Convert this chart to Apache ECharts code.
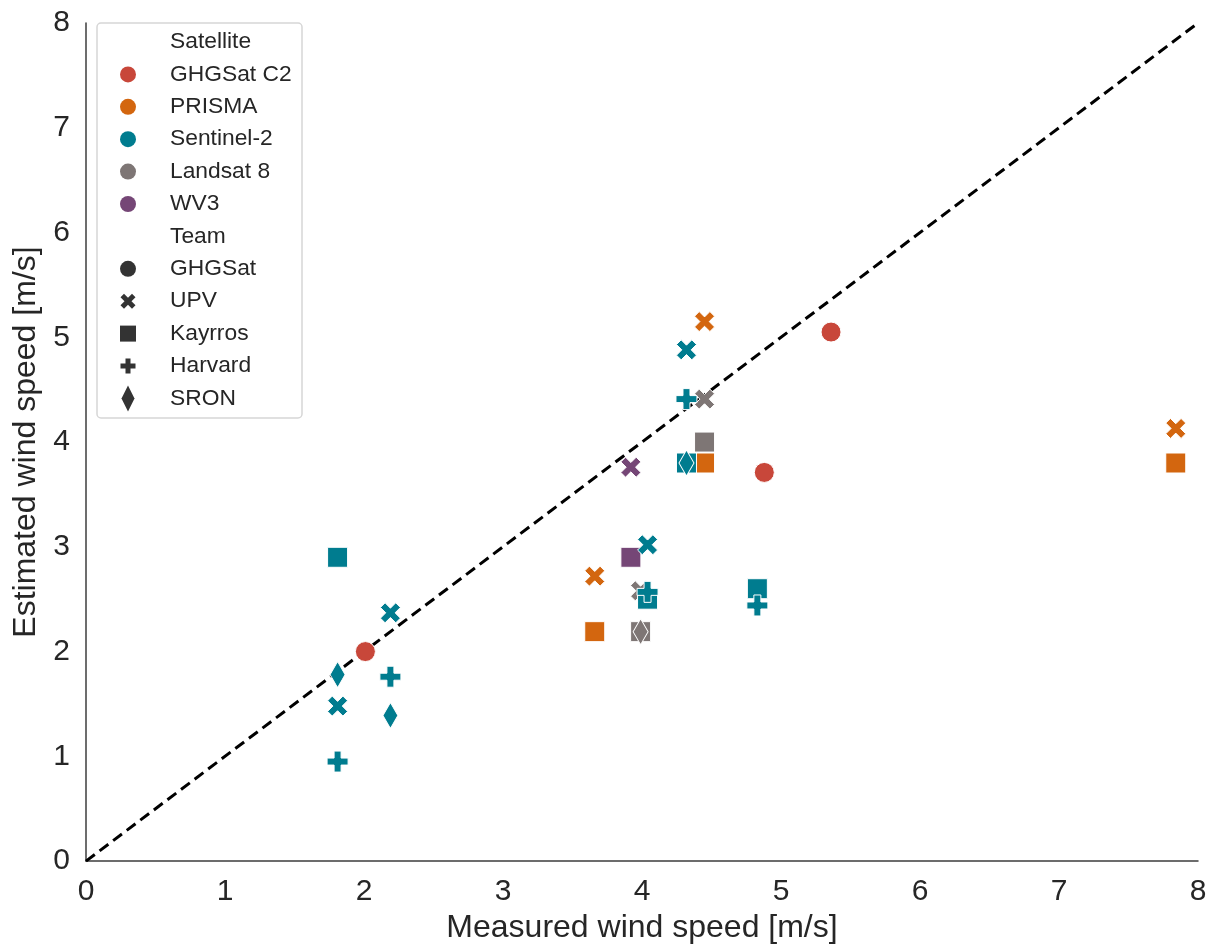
<!DOCTYPE html>
<html>
<head>
<meta charset="utf-8">
<script src="https://cdn.jsdelivr.net/npm/echarts@6/dist/echarts.min.js"></script>
<style>html,body{margin:0;padding:0;background:#fff}#c{width:1211px;height:949px}</style>
</head>
<body>
<div id="c"></div>
<script>
// ---- data ----
const satellites = ['GHGSat C2', 'PRISMA', 'Sentinel-2', 'Landsat 8', 'WV3'];
const teams = ['GHGSat', 'UPV', 'Kayrros', 'Harvard', 'SRON'];
const axisTicks = [0, 1, 2, 3, 4, 5, 6, 7, 8];

const ghgsatC2_GHGSat = [[2.01, 2.00], [5.36, 5.05], [4.88, 3.71]];
const prisma_UPV = [[4.45, 5.15], [7.84, 4.13], [3.66, 2.72]];
const prisma_Kayrros = [[7.84, 3.80], [4.45, 3.80], [3.66, 2.19]];
const sentinel2_UPV = [[4.32, 4.88], [4.04, 3.02], [2.19, 2.37], [1.81, 1.48]];
const sentinel2_Kayrros = [[4.32, 3.80], [4.04, 2.50], [4.83, 2.60], [1.81, 2.90]];
const sentinel2_Harvard = [[4.32, 4.41], [4.04, 2.57], [4.83, 2.44], [2.19, 1.76], [1.81, 0.95]];
const sentinel2_SRON = [[4.32, 3.80], [2.19, 1.39], [1.81, 1.78]];
const landsat8_UPV = [[4.45, 4.41], [3.99, 2.58]];
const landsat8_Kayrros = [[4.45, 4.00], [3.99, 2.19]];
const landsat8_SRON = [[3.99, 2.19]];
const wv3_UPV = [[3.92, 3.76]];
const wv3_Kayrros = [[3.92, 2.90]];
const identityLine = [[0, 0], [8, 8]];

// ---- styles ----
const satColors = {
  'GHGSat C2': '#c8473a',
  'PRISMA': '#d3660f',
  'Sentinel-2': '#007c8f',
  'Landsat 8': '#7e7675',
  'WV3': '#754676'
};
const X_PATH = 'path://M-3,-1.6L-1.6,-3L0,-1.4L1.6,-3L3,-1.6L1.4,0L3,1.6L1.6,3L0,1.4L-1.6,3L-3,1.6L-1.4,0Z';
const P_PATH = 'path://M-1,-3H1V-1H3V1H1V3H-1V1H-3V-1H-1Z';
const teamSymbols = {
  'GHGSat': { symbol: 'circle', size: 20 },
  'UPV': { symbol: X_PATH, size: 20 },
  'Kayrros': { symbol: 'rect', size: 20 },
  'Harvard': { symbol: P_PATH, size: 21 },
  'SRON': { symbol: 'diamond', size: [15, 26] }
};

// draw order
const groups = [
  ['Landsat 8', 'Kayrros', landsat8_Kayrros],
  ['PRISMA', 'Kayrros', prisma_Kayrros],
  ['WV3', 'Kayrros', wv3_Kayrros],
  ['Landsat 8', 'UPV', landsat8_UPV],
  ['Sentinel-2', 'Kayrros', sentinel2_Kayrros],
  ['PRISMA', 'UPV', prisma_UPV],
  ['Sentinel-2', 'UPV', sentinel2_UPV],
  ['WV3', 'UPV', wv3_UPV],
  ['Sentinel-2', 'Harvard', sentinel2_Harvard],
  ['Sentinel-2', 'SRON', sentinel2_SRON],
  ['Landsat 8', 'SRON', landsat8_SRON],
  ['GHGSat C2', 'GHGSat', ghgsatC2_GHGSat]
];

const series = [{
  type: 'line',
  data: identityLine,
  showSymbol: false,
  silent: true,
  z: 1,
  lineStyle: { color: '#000', width: 3, type: [11, 6] },
  animation: false
}];
groups.forEach(([sat, team, data], i) => {
  series.push({
    type: 'scatter',
    name: sat + ' / ' + team,
    data: data,
    symbol: teamSymbols[team].symbol,
    symbolSize: teamSymbols[team].size,
    itemStyle: { color: satColors[sat], borderColor: '#ffffff', borderWidth: 1, opacity: 1 },
    z: 2 + i,
    animation: false
  });
});

// ---- legend (graphic) ----
const LG = { left: 97, top: 23, width: 205, height: 395, rowTop: 42, rowStep: 32.4, markerX: 128, textX: 170 };
const legendRows = [{ header: 'Satellite' }]
  .concat(satellites.map(s => ({ label: s, color: satColors[s], shape: 'circle' })))
  .concat([{ header: 'Team' }])
  .concat(teams.map(t => ({ label: t, color: '#333333', shape: t })));

function shapeEl(shape, cx, cy, color) {
  const st = { fill: color };
  if (shape === 'circle' || shape === 'GHGSat') return { type: 'circle', shape: { cx, cy, r: 8 }, style: st };
  if (shape === 'Kayrros') return { type: 'rect', shape: { x: cx - 8, y: cy - 8, width: 16, height: 16 }, style: st };
  if (shape === 'SRON') return { type: 'polygon', shape: { points: [[cx, cy - 13], [cx + 6.5, cy], [cx, cy + 13], [cx - 6.5, cy]] }, style: st };
  const s = 15 / 6;
  let pts;
  if (shape === 'UPV') pts = [[-3,-1.6],[-1.6,-3],[0,-1.4],[1.6,-3],[3,-1.6],[1.4,0],[3,1.6],[1.6,3],[0,1.4],[-1.6,3],[-3,1.6],[-1.4,0]];
  else pts = [[-1,-3],[1,-3],[1,-1],[3,-1],[3,1],[1,1],[1,3],[-1,3],[-1,1],[-3,1],[-3,-1],[-1,-1]];
  return { type: 'polygon', shape: { points: pts.map(p => [cx + p[0] * s, cy + p[1] * s]) }, style: st };
}

const graphic = [{
  type: 'rect',
  shape: { x: LG.left, y: LG.top, width: LG.width, height: LG.height, r: 4 },
  style: { fill: '#ffffff', stroke: '#d6d6d6', lineWidth: 1.5 },
  z: 100
}];
legendRows.forEach((row, i) => {
  const cy = LG.rowTop + i * LG.rowStep;
  graphic.push({
    type: 'text',
    style: { text: row.header || row.label, x: LG.textX, y: cy, fill: '#262626', font: '22.8px "Liberation Sans", Arial, sans-serif', verticalAlign: 'middle', align: 'left' },
    z: 101
  });
  if (!row.header) {
    const el = shapeEl(row.shape, LG.markerX, cy, row.color);
    el.z = 101;
    graphic.push(el);
  }
});

const FONT = '"Liberation Sans", Arial, sans-serif';
const chart = echarts.init(document.getElementById('c'), null, { renderer: 'canvas' });
chart.setOption({
  animation: false,
  backgroundColor: '#ffffff',
  grid: { left: 86, right: 13, top: 23, bottom: 86 },
  xAxis: {
    type: 'value', min: 0, max: 8, interval: 1,
    name: 'Measured wind speed [m/s]', nameLocation: 'middle', nameGap: 48,
    nameTextStyle: { fontSize: 32, color: '#262626', fontFamily: FONT },
    axisLine: { show: true, lineStyle: { color: '#3c3c3c', width: 1.5 } },
    axisTick: { show: false },
    splitLine: { show: false },
    axisLabel: { fontSize: 30, color: '#262626', fontFamily: FONT, margin: 16,
      formatter: v => axisTicks.includes(v) ? String(v) : '' }
  },
  yAxis: {
    type: 'value', min: 0, max: 8, interval: 1,
    name: 'Estimated wind speed [m/s]', nameLocation: 'middle', nameGap: 43,
    nameTextStyle: { fontSize: 32, color: '#262626', fontFamily: FONT },
    axisLine: { show: true, lineStyle: { color: '#3c3c3c', width: 1.5 } },
    axisTick: { show: false },
    splitLine: { show: false },
    axisLabel: { fontSize: 30, color: '#262626', fontFamily: FONT, margin: 16,
      formatter: v => axisTicks.includes(v) ? String(v) : '' }
  },
  series: series,
  graphic: graphic
});
</script>
</body>
</html>
